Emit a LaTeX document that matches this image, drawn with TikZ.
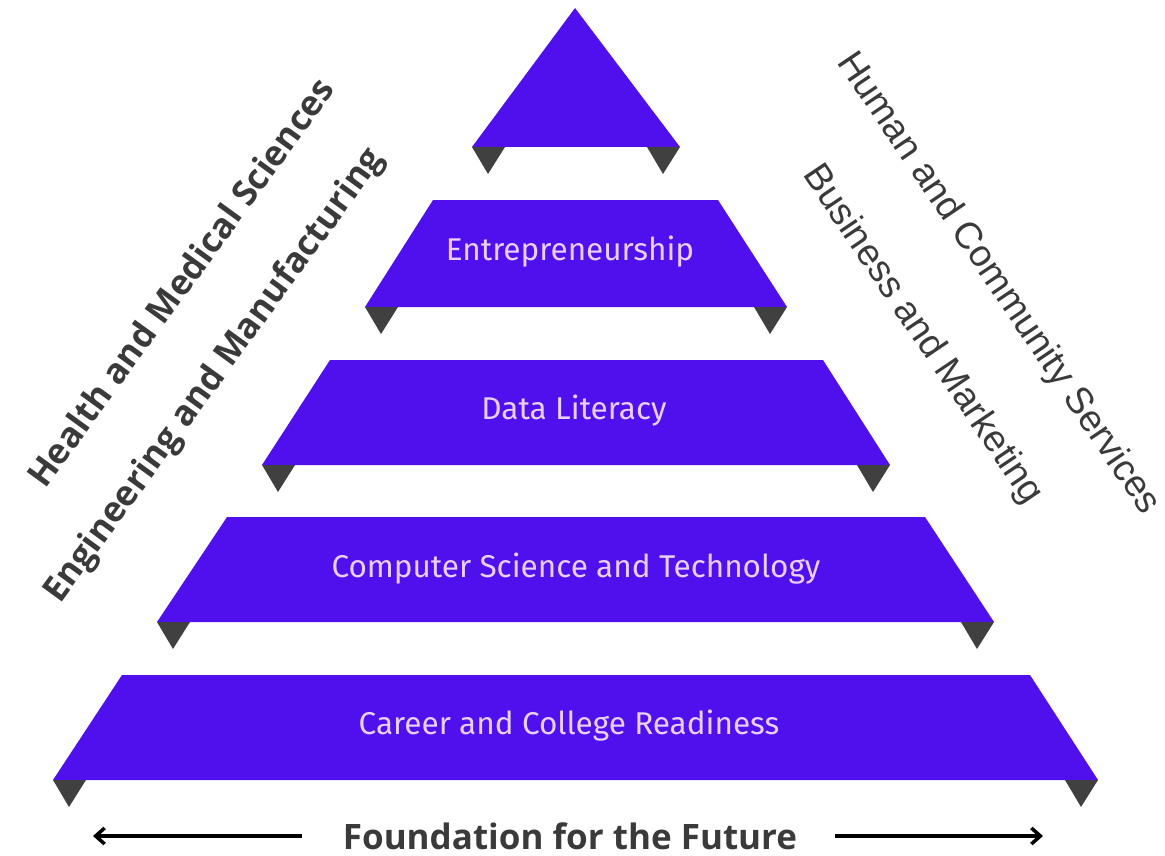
\documentclass[tikz,border=0pt]{standalone}
\usepackage{fontspec}
\setmainfont{Fira Sans}
\newfontfamily\leftfont{Open Sans}
\newfontfamily\rightfont{Liberation Sans}
\usetikzlibrary{arrows.meta}
\definecolor{pyr}{RGB}{80,16,238}
\definecolor{tabc}{RGB}{64,64,64}
\definecolor{lav}{RGB}{234,206,252}
\definecolor{ink}{RGB}{58,58,58}
\newcommand\pyrtabs[3]{% bottom y, left x, right x
  \fill[tabc] (#2,#1) -- (#2+33,#1) -- (#2+16,#1+27) -- cycle;
  \fill[tabc] (#3-33,#1) -- (#3,#1) -- (#3-17,#1+27) -- cycle;}
\newcommand\pyrlayer[6]{% top y, top left, top right, bottom y, bottom left, bottom right
  \fill[pyr] (#2,#1) -- (#3,#1) -- (#6,#4) -- (#5,#4) -- cycle;
  \pyrtabs{#4}{#5}{#6}}
\begin{document}
\begin{tikzpicture}[x=1pt,y=-1pt,
  layertext/.style={text=lav,font=\fontsize{31.5}{36}\selectfont,anchor=base,inner sep=0pt},
  leftlabel/.style={text=ink,font=\leftfont\bfseries\fontsize{35}{40}\selectfont,rotate=54,inner sep=0pt},
  rightlabel/.style={text=ink,font=\rightfont\fontsize{37.5}{44}\selectfont,rotate=-56,inner sep=0pt},
  footarrow/.style={draw=black,line width=3.5pt,-{Straight Barb[length=9pt,width=16pt,line width=3.5pt]}}]
\useasboundingbox (0,0) rectangle (1165,856);
% top triangle
\fill[pyr] (575,8) -- (680,147) -- (472,147) -- cycle;
\pyrtabs{147}{472}{680}
% layers
\pyrlayer{200}{433}{718}{307}{365}{787}
\pyrlayer{360}{330}{823}{465}{262}{890}
\pyrlayer{517}{227}{925}{622}{157}{994}
\pyrlayer{675}{122}{1030}{780}{53}{1098}
% layer texts
\node[layertext] (t1) at (570,260) {Entrepreneurship};
\node[layertext] (t2) at (574,419) {Data Literacy};
\node[layertext] (t3) at (576,577) {Computer Science and Technology};
\node[layertext] (t4) at (569,734) {Career and College Readiness};
% side labels
\node[leftlabel] (l1) at (180,282) {Health and Medical Sciences};
\node[leftlabel] (l2) at (215,376) {Engineering and Manufacturing};
\node[rightlabel] (r1) at (998,284) {Human and Community Services};
\node[rightlabel] (r2) at (922,335) {Business and Marketing};
% foundation
\node[text=ink,font=\leftfont\bfseries\fontsize{35}{40}\selectfont,anchor=base,inner sep=0pt] (foot) at (570,849) {Foundation for the Future};
\coordinate (la) at (302,836);
\coordinate (lb) at (93,836);
\coordinate (ra) at (835,836);
\coordinate (rb) at (1043,836);
\draw[footarrow] (la) -- (lb);
\draw[footarrow] (ra) -- (rb);
\end{tikzpicture}
\end{document}
